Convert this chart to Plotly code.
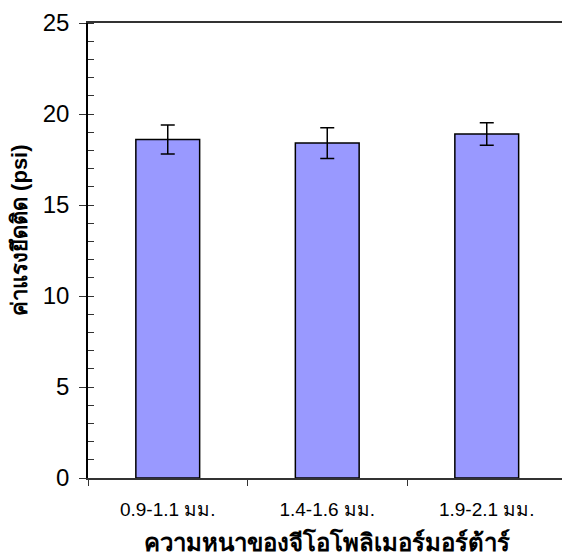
import plotly.graph_objects as go

categories = ["0.9-1.1 มม.", "1.4-1.6 มม.", "1.9-2.1 มม."]
values = [18.6, 18.4, 18.9]
errors = [0.8, 0.85, 0.62]
y_ticks = [0, 5, 10, 15, 20, 25]

x_title = "ความหนาของจีโอโพลิเมอร์มอร์ต้าร์"
y_title = "ค่าแรงยึดติด (psi)"

W, H = 562, 556
L, T, B = 88, 23, 78
cat_px = 159.5
plot_w = W - L
plot_h = H - B - T
x_max = -0.5 + plot_w / cat_px

fig = go.Figure()
fig.add_trace(go.Bar(
    x=categories, y=values, width=0.4,
    marker=dict(color="#9999FF", line=dict(color="black", width=1.5)),
    error_y=dict(type="data", array=errors, visible=True, color="black",
                 thickness=1.5, width=7),
))

font_fam = "Liberation Sans, Arial, sans-serif"
fig.update_layout(
    width=W, height=H,
    margin=dict(l=L, r=0, t=T, b=B, pad=0),
    paper_bgcolor="white", plot_bgcolor="white",
    showlegend=False,
    font=dict(family=font_fam, color="black"),
    xaxis=dict(
        type="category", range=[-0.5, x_max],
        tickson="boundaries", ticks="outside", ticklen=6, tickcolor="#333",
        showline=True, linecolor="#333", linewidth=1.5, mirror=True,
        showgrid=False, zeroline=False,
        tickfont=dict(size=19, family=font_fam),
        ticklabelstandoff=13,
    ),
    yaxis=dict(
        range=[0, 25], tickvals=y_ticks, ticks="outside", ticklen=7,
        tickcolor="#333", showline=True, linecolor="black", linewidth=1.5,
        showgrid=False, zeroline=False,
        tickfont=dict(size=24, family=font_fam),
        ticklabelstandoff=5,
        minor=dict(ticks="inside", dtick=1, ticklen=6, tickcolor="#333",
                   showgrid=False),
    ),
    annotations=[
        dict(text="<b>" + x_title + "</b>", xref="paper", yref="paper",
             x=(327 - L) / plot_w, y=-(542 - (H - B)) / plot_h,
             xanchor="center", yanchor="middle", showarrow=False,
             font=dict(size=24, family=font_fam)),
        dict(text="<b>" + y_title + "</b>", xref="paper", yref="paper",
             x=-(L - 19) / plot_w, y=(H - B - 230) / plot_h,
             xanchor="center", yanchor="middle", showarrow=False, textangle=-90,
             font=dict(size=22, family=font_fam)),
    ],
)

fig.write_html("out.html")
